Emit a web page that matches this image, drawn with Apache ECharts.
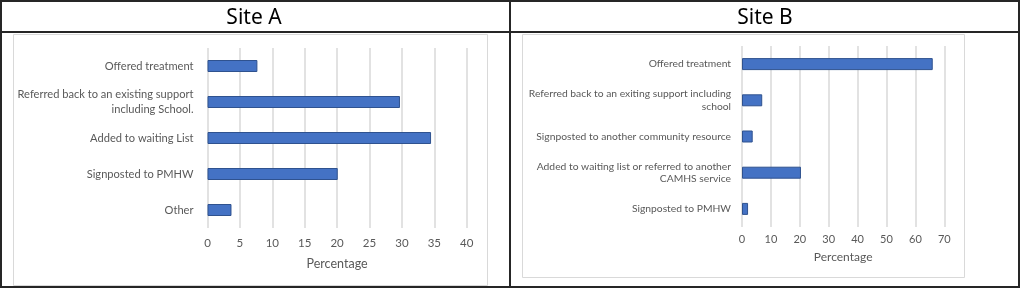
<!DOCTYPE html>
<html>
<head>
<meta charset="utf-8">
<script src="https://cdn.jsdelivr.net/npm/echarts@6/dist/echarts.min.js"></script>
<style>
  html, body { margin: 0; padding: 0; background: #fff; }
  #chart { width: 1021px; height: 290px; }
</style>
</head>
<body>
<div id="chart"></div>
<script>
// Site A
const catsA = [
  "Offered treatment",
  "Referred back to an existing support\nincluding School.",
  "Added to waiting List",
  "Signposted to PMHW",
  "Other"
];
const valsA = [7.7, 29.7, 34.5, 20.1, 3.7];

// Site B
const catsB = [
  "Offered treatment",
  "Referred back to an exiting support including\nschool",
  "Signposted to another community resource",
  "Added to waiting list or referred to another\nCAMHS service",
  "Signposted to PMHW"
];
const valsB = [66, 7.0, 3.7, 20.4, 2.1];

const titles = ["Site A", "Site B"];
const axisName = "Percentage";

const FONT = "Lato";
const TITLE_FONT = "Noto Sans";
const labelColor = "#595959";
const gridColor = "#D9D9D9";
const barColor = "#4472C4";
const barBorder = "#2F528F";

const chart = echarts.init(document.getElementById("chart"));

function xAxisFor(idx, max, interval, margin, nameGap, fs) {
  return {
    gridIndex: idx,
    type: "value",
    min: 0,
    max: max,
    interval: interval,
    axisLine: { show: false },
    axisTick: { show: false },
    axisLabel: { color: labelColor, fontFamily: FONT, fontSize: fs, margin: margin },
    splitLine: { lineStyle: { color: gridColor, width: 1.5 } },
    name: axisName,
    nameLocation: "middle",
    nameGap: nameGap,
    nameTextStyle: { color: labelColor, fontFamily: FONT, fontSize: fs + 1 }
  };
}

function yAxisFor(idx, cats, margin, fs, lh) {
  return {
    gridIndex: idx,
    type: "category",
    data: cats,
    inverse: true,
    axisLine: { show: false },
    axisTick: { show: false },
    axisLabel: {
      color: labelColor, fontFamily: FONT, fontSize: fs, margin: margin,
      align: "right", lineHeight: lh
    }
  };
}

const option = {
  backgroundColor: "#fff",
  animation: false,
  graphic: [
    // inner chart boxes
    { type: "rect", shape: { x: 13.5, y: 34.5, width: 474, height: 251 },
      style: { fill: "none", stroke: gridColor, lineWidth: 1 } },
    { type: "rect", shape: { x: 522.5, y: 34.5, width: 442, height: 243 },
      style: { fill: "none", stroke: gridColor, lineWidth: 1 } },
    // outer frame, header line and divider
    { type: "rect", shape: { x: 1, y: 1, width: 1018, height: 286 },
      style: { fill: "none", stroke: "#262626", lineWidth: 2 } },
    { type: "line", shape: { x1: 1, y1: 32, x2: 1019, y2: 32 },
      style: { stroke: "#262626", lineWidth: 2 } },
    { type: "line", shape: { x1: 510, y1: 1, x2: 510, y2: 287 },
      style: { stroke: "#262626", lineWidth: 2 } }
  ],
  title: [
    { text: titles[0], left: 249, top: 3, textAlign: "center",
      textStyle: { fontFamily: TITLE_FONT, fontSize: 21, fontWeight: "normal", color: "#000" } },
    { text: titles[1], left: 760, top: 3, textAlign: "center",
      textStyle: { fontFamily: TITLE_FONT, fontSize: 21, fontWeight: "normal", color: "#000" } }
  ],
  grid: [
    { left: 207.5, width: 259.2, top: 48, height: 180, containLabel: false },
    { left: 742, width: 202.3, top: 46, height: 181, containLabel: false }
  ],
  xAxis: [
    xAxisFor(0, 40, 5, 9, 29, 11.5),
    xAxisFor(1, 70, 10, 7, 24, 11)
  ],
  yAxis: [
    yAxisFor(0, catsA, 14, 11.1, 15),
    yAxisFor(1, catsB, 11, 10.3, 12.5)
  ],
  series: [
    {
      type: "bar", xAxisIndex: 0, yAxisIndex: 0, data: valsA, barWidth: 12,
      itemStyle: { color: barColor, borderColor: barBorder, borderWidth: 1 }
    },
    {
      type: "bar", xAxisIndex: 1, yAxisIndex: 1, data: valsB, barWidth: 12,
      itemStyle: { color: barColor, borderColor: barBorder, borderWidth: 1 }
    }
  ]
};

chart.setOption(option);
</script>
</body>
</html>
